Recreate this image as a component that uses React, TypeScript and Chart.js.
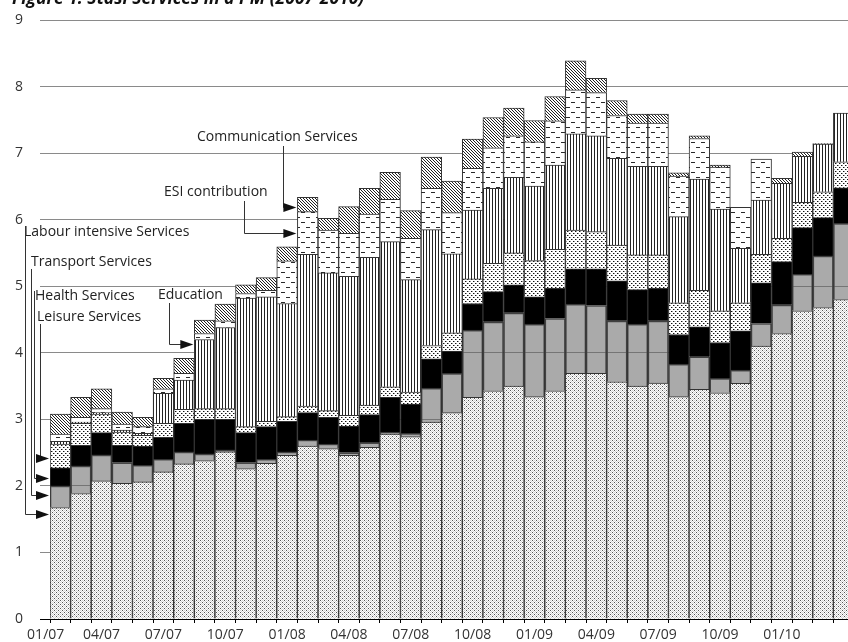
import React, { useEffect, useRef } from 'react';
import { Chart, registerables } from 'chart.js';

Chart.register(...registerables);

const months = [
  '02/07','03/07','04/07','05/07','06/07','07/07','08/07','09/07','10/07','11/07','12/07',
  '01/08','02/08','03/08','04/08','05/08','06/08','07/08','08/08','09/08','10/08','11/08','12/08',
  '01/09','02/09','03/09','04/09','05/09','06/09','07/09','08/09','09/09','10/09','11/09','12/09',
  '01/10','02/10','03/10','04/10',
];
const tickLabels = ['04/07','07/07','10/07','01/08','04/08','07/08','10/08','01/09','04/09','07/09','10/09','01/10'];
const leadingTickLabel = '01/07';
const yTicks = [0, 1, 2, 3, 4, 5, 6, 7, 8, 9];

const labourIntensive = [1.675,1.885,2.075,2.04,2.06,2.21,2.33,2.38,2.51,2.26,2.34,2.46,2.6,2.56,2.46,2.58,2.78,2.74,2.96,3.1,3.33,3.43,3.5,3.34,3.43,3.69,3.69,3.565,3.5,3.545,3.34,3.45,3.4,3.54,4.1,4.29,4.63,4.68,4.8];
const transport = [0.325,0.415,0.39,0.31,0.25,0.19,0.18,0.1,0.03,0.09,0.06,0.05,0.09,0.07,0.04,0.07,0.03,0.05,0.51,0.59,1.01,1.035,1.1,1.09,1.085,1.04,1.02,0.915,0.93,0.935,0.49,0.49,0.215,0.2,0.34,0.43,0.55,0.775,1.145];
const health = [0.27,0.31,0.335,0.26,0.29,0.33,0.43,0.52,0.46,0.45,0.49,0.46,0.41,0.4,0.4,0.42,0.52,0.44,0.44,0.335,0.4,0.455,0.42,0.41,0.455,0.53,0.55,0.6,0.52,0.49,0.445,0.45,0.54,0.59,0.61,0.65,0.7,0.575,0.535];
const leisure = [0.36,0.33,0.28,0.2,0.16,0.21,0.21,0.16,0.16,0.09,0.08,0.07,0.1,0.1,0.16,0.145,0.16,0.18,0.2,0.275,0.37,0.425,0.48,0.545,0.585,0.585,0.56,0.54,0.52,0.5,0.475,0.55,0.475,0.42,0.43,0.35,0.38,0.39,0.39];
const education = [0.04,0.02,0.02,0.03,0.03,0.45,0.44,1.04,1.22,1.93,1.87,1.7,2.28,2.07,2.09,2.22,2.18,1.69,1.74,1.185,1.035,1.125,1.135,1.12,1.265,1.445,1.44,1.3,1.33,1.33,1.295,1.67,1.53,0.82,0.815,0.825,0.69,0.715,0.73];
const esiContribution = [0.11,0.07,0.06,0.09,0.1,0.07,0.1,0.09,0.1,0.07,0.1,0.64,0.64,0.645,0.645,0.65,0.635,0.62,0.62,0.62,0.625,0.61,0.625,0.665,0.665,0.66,0.65,0.645,0.65,0.65,0.61,0.61,0.63,0.615,0.615,0,0,0,0];
const communication = [0.3,0.3,0.3,0.18,0.14,0.155,0.225,0.2,0.25,0.13,0.19,0.21,0.215,0.175,0.4,0.385,0.405,0.415,0.47,0.475,0.44,0.455,0.415,0.32,0.365,0.435,0.215,0.225,0.135,0.135,0.05,0.04,0.03,0,0,0.075,0.065,0.01,0];

const seriesNames = ['Labour intensive Services','Transport Services','Health Services','Leisure Services','Education','ESI contribution','Communication Services'];

// annotation callouts: text position (px), elbow x (px), target bar index & value
const notes = [
  { label: 'Communication Services', textX: 197, textY: 137, elbowX: 283, lineTopY: 146, bar: 12, value: 6.19 },
  { label: 'ESI contribution', textX: 164, textY: 192, elbowX: 244, lineTopY: 201, bar: 12, value: 5.8 },
  { label: 'Education', textX: 158, textY: 295, elbowX: 169, lineTopY: 303, bar: 7, value: 4.13 },
  { label: 'Labour intensive Services', textX: 24, textY: 232, elbowX: 25, lineTopY: 226, bar: 0, value: 1.585 },
  { label: 'Transport Services', textX: 31, textY: 262, elbowX: 31, lineTopY: 269, bar: 0, value: 1.86 },
  { label: 'Health Services', textX: 35, textY: 296, elbowX: 34, lineTopY: 291, bar: 0, value: 2.12 },
  { label: 'Leisure Services', textX: 37, textY: 317, elbowX: 40, lineTopY: 324, bar: 0, value: 2.42 },
];
const titleText = 'Figure 1: Stasi Services in a PM (2007-2010)';

const FONT = '"Open Sans", sans-serif';

function makeTile(w: number, h: number, draw: (g: CanvasRenderingContext2D) => void) {
  const c = document.createElement('canvas');
  c.width = w;
  c.height = h;
  const g = c.getContext('2d') as CanvasRenderingContext2D;
  draw(g);
  return c;
}

function makePatterns(ctx: CanvasRenderingContext2D) {
  const fineDots = makeTile(4, 4, (g) => {
    g.fillStyle = '#ffffff';
    g.fillRect(0, 0, 4, 4);
    g.fillStyle = '#d2d2d2';
    for (let yy = 0; yy < 4; yy++) for (let xx = 0; xx < 4; xx++) if ((xx + yy) % 2 === 0) g.fillRect(xx, yy, 1, 1);
    g.fillStyle = '#555555';
    g.fillRect(0, 0, 1, 1);
    g.fillRect(2, 2, 1, 1);
  });
  const coarseDots = makeTile(4, 4, (g) => {
    g.fillStyle = '#ffffff';
    g.fillRect(0, 0, 4, 4);
    g.fillStyle = '#111111';
    g.fillRect(1, 1, 1, 1);
    g.fillRect(3, 3, 1, 1);
    g.fillStyle = '#999999';
    g.fillRect(2, 1, 1, 1);
    g.fillRect(0, 3, 1, 1);
  });
  const vStripes = makeTile(3, 3, (g) => {
    g.fillStyle = '#ffffff';
    g.fillRect(0, 0, 3, 3);
    g.fillStyle = '#222222';
    g.fillRect(0, 0, 1, 3);
  });
  const dashes = makeTile(10, 10, (g) => {
    g.fillStyle = '#ffffff';
    g.fillRect(0, 0, 10, 10);
    g.fillStyle = '#2a2a2a';
    g.fillRect(1, 2, 4, 1);
    g.fillRect(6, 7, 4, 1);
  });
  const hatch = makeTile(3, 3, (g) => {
    g.fillStyle = '#ffffff';
    g.fillRect(0, 0, 3, 3);
    g.fillStyle = '#222222';
    for (let i = 0; i < 3; i++) g.fillRect(i, i, 1, 1);
  });
  return {
    fineDots: ctx.createPattern(fineDots, 'repeat'),
    coarseDots: ctx.createPattern(coarseDots, 'repeat'),
    vStripes: ctx.createPattern(vStripes, 'repeat'),
    dashes: ctx.createPattern(dashes, 'repeat'),
    hatch: ctx.createPattern(hatch, 'repeat'),
  };
}

const notesPlugin = {
  id: 'notes',
  afterDraw(chart: any) {
    const { ctx, scales, chartArea } = chart;
    const x = scales.x;
    const y = scales.y;
    const meta = chart.getDatasetMeta(0);
    ctx.save();
    // title (partially cut off at top)
    ctx.font = `bold italic 17.5px ${FONT}`;
    ctx.fillStyle = '#111';
    ctx.textBaseline = 'alphabetic';
    ctx.textAlign = 'left';
    ctx.fillText(titleText, 12, 4);

    // leading tick label
    ctx.font = `14px ${FONT}`;
    ctx.fillStyle = '#333';
    ctx.textAlign = 'center';
    ctx.textBaseline = 'middle';
    ctx.fillText(leadingTickLabel, x.getPixelForValue(-1) + 6, chartArea.bottom + 4 + 4 + 14 * 1.2 / 2);

    ctx.textAlign = 'left';
    for (const a of notes) {
      const bar = meta.data[a.bar];
      const tipX = bar.x - bar.width / 2 - 1;
      const ty = Math.round(y.getPixelForValue(a.value)) + 0.5;
      ctx.fillStyle = '#222';
      ctx.font = `14px ${FONT}`;
      ctx.textBaseline = 'middle';
      ctx.fillText(a.label, a.textX, a.textY);
      ctx.strokeStyle = '#333';
      ctx.lineWidth = 1;
      ctx.beginPath();
      ctx.moveTo(a.elbowX + 0.5, a.lineTopY);
      ctx.lineTo(a.elbowX + 0.5, ty);
      ctx.lineTo(tipX - 10, ty);
      ctx.stroke();
      ctx.fillStyle = '#111';
      ctx.beginPath();
      ctx.moveTo(tipX, ty);
      ctx.lineTo(tipX - 13, ty - 4.5);
      ctx.lineTo(tipX - 13, ty + 4.5);
      ctx.closePath();
      ctx.fill();
    }
    ctx.restore();
  },
};

export default function App() {
  const ref = useRef<HTMLCanvasElement | null>(null);
  useEffect(() => {
    const canvas = ref.current;
    if (!canvas) return;
    const ctx = canvas.getContext('2d') as CanvasRenderingContext2D;
    const p = makePatterns(ctx);
    const fills: any[] = [p.fineDots, 'rgba(100,100,100,0.55)', '#000000', p.coarseDots, p.vStripes, p.dashes, p.hatch];
    const values = [labourIntensive, transport, health, leisure, education, esiContribution, communication];
    const chart = new Chart(ctx, {
      type: 'bar',
      data: {
        labels: months,
        datasets: values.map((v, i) => ({
          label: seriesNames[i],
          data: v,
          backgroundColor: fills[i],
          borderColor: '#333333',
          borderWidth: 1,
          categoryPercentage: 1,
          barPercentage: 1,
        })),
      },
      options: {
        responsive: false,
        animation: false,
        devicePixelRatio: 1,
        layout: { padding: { top: 20, left: 15, right: 0, bottom: 0 } },
        plugins: { legend: { display: false }, tooltip: { enabled: false }, title: { display: false } },
        scales: {
          x: {
            stacked: true,
            offset: true,
            grid: { display: true, drawOnChartArea: false, drawTicks: true, tickLength: 4, color: '#000', offset: true },
            border: { display: true, color: '#000', width: 1 },
            ticks: {
              autoSkip: false,
              maxRotation: 0,
              minRotation: 0,
              padding: 4,
              color: '#333',
              font: { family: FONT, size: 14 },
              callback: function (this: any, val: any) {
                const l = this.getLabelForValue(val);
                return tickLabels.includes(l) ? l : '';
              },
            },
            afterFit: (s: any) => { s.height = 23; },
          },
          y: {
            stacked: true,
            min: 0,
            max: 9,
            afterBuildTicks: (s: any) => { s.ticks = yTicks.map((v) => ({ value: v })); },
            grid: {
              color: (c: any) => (c.tick && c.tick.value === 0 ? '#000' : '#8a8a8a'),
              tickLength: 10,
              drawTicks: true,
            },
            border: { display: false },
            ticks: { padding: 0, crossAlign: 'far', color: '#333', font: { family: FONT, size: 14 } },
            afterFit: (s: any) => { s.width = 35; },
          },
        },
      },
      plugins: [notesPlugin],
    });
    return () => chart.destroy();
  }, []);
  return (
    <div style={{ position: 'fixed', left: 0, top: 0, width: 848, height: 642, overflow: 'hidden', background: '#fff' }}>
      <canvas ref={ref} width={854} height={642} style={{ display: 'block', width: 854, height: 642 }} />
    </div>
  );
}
